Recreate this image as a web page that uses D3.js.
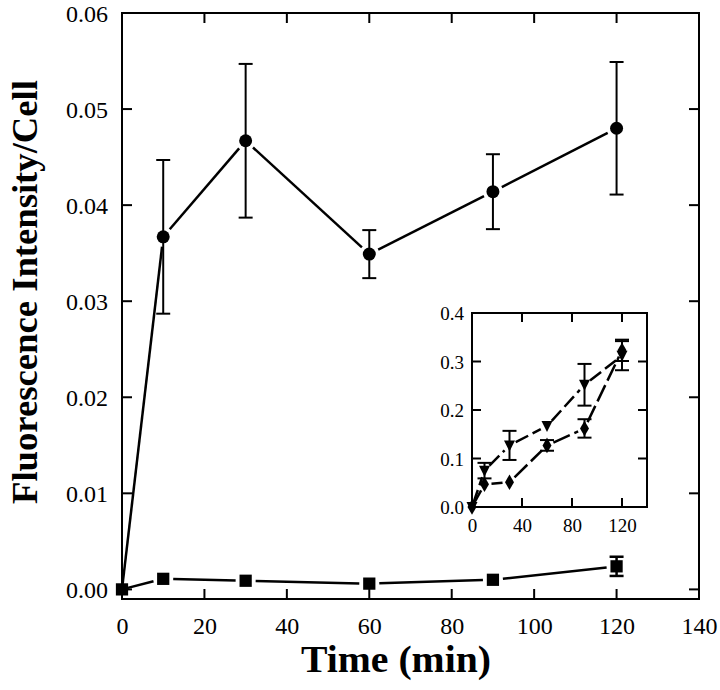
<!DOCTYPE html>
<html><head><meta charset="utf-8">
<script src="https://cdn.jsdelivr.net/npm/d3@7"></script>
<style>body{margin:0;background:#fff}svg{display:block}</style>
</head><body>
<svg id="c" width="720" height="690"></svg>
<script>
// ---- data ----
const times = [0, 10, 30, 60, 90, 120];
const circleVals = [0, 0.0367, 0.0467, 0.0349, 0.0414, 0.0480];
const circleErr  = [0, 0.0080, 0.0080, 0.0025, 0.0039, 0.0069];
const squareVals = [0, 0.0011, 0.0009, 0.0006, 0.0010, 0.0024];
const squareErr  = [0, 0, 0, 0, 0, 0.0010];
const xTicks = [0, 20, 40, 60, 80, 100, 120, 140];
const yTicks = [0, 0.01, 0.02, 0.03, 0.04, 0.05, 0.06];

const insetTimes = [0, 10, 30, 60, 90, 120];
const triVals = [0, 0.075, 0.127, 0.167, 0.252, 0.312];
const triErr  = [0, 0.016, 0.030, 0, 0.043, 0.030];
const diaVals = [0, 0.047, 0.051, 0.127, 0.162, 0.323];
const diaErr  = [0, 0, 0, 0.011, 0.019, 0.022];
const insetXTicks = [0, 40, 80, 120];
const insetYTicks = [0, 0.1, 0.2, 0.3, 0.4];

const svg = d3.select("#c");
const serif = "'Liberation Serif', 'DejaVu Serif', serif";

// ---- main scales ----
const x = d3.scaleLinear().domain([0, 140]).range([122, 699]);
const y = d3.scaleLinear().domain([-0.001, 0.06]).range([599, 13]);

function frame(g, xs, ys, xt, yt, tickLen, sw) {
  const [x0, x1] = xs.range(), [y0, y1] = ys.range();
  g.append("rect").attr("x", x0).attr("y", y1).attr("width", x1 - x0).attr("height", y0 - y1)
    .attr("fill", "none").attr("stroke", "#000").attr("stroke-width", sw);
  xt.forEach(t => {
    if (t > xs.domain()[0] && t < xs.domain()[1]) {
      g.append("line").attr("x1", xs(t)).attr("x2", xs(t)).attr("y1", y0).attr("y2", y0 - tickLen).attr("stroke", "#000").attr("stroke-width", sw);
      g.append("line").attr("x1", xs(t)).attr("x2", xs(t)).attr("y1", y1).attr("y2", y1 + tickLen).attr("stroke", "#000").attr("stroke-width", sw);
    }
  });
  yt.forEach(t => {
    if (t > ys.domain()[0] && t < ys.domain()[1]) {
      g.append("line").attr("x1", x0).attr("x2", x0 + tickLen).attr("y1", ys(t)).attr("y2", ys(t)).attr("stroke", "#000").attr("stroke-width", sw);
      g.append("line").attr("x1", x1).attr("x2", x1 - tickLen).attr("y1", ys(t)).attr("y2", ys(t)).attr("stroke", "#000").attr("stroke-width", sw);
    }
  });
}

// main frame
const gm = svg.append("g");
frame(gm, x, y, xTicks, yTicks, 10, 2);

// axis tick labels via d3 axes (no lines)
const xAxis = d3.axisBottom(x).tickValues(xTicks).tickSize(0).tickPadding(0).tickFormat(d3.format("d"));
const gx = svg.append("g").attr("transform", "translate(0,634)").call(xAxis);
gx.select(".domain").remove();
gx.selectAll("text").attr("font-family", serif).attr("font-size", 24).attr("fill", "#000").attr("dy", "0");

const yAxis = d3.axisLeft(y).tickValues(yTicks).tickSize(0).tickPadding(0).tickFormat(d3.format(".2f"));
const gy = svg.append("g").attr("transform", "translate(108,0)").call(yAxis);
gy.select(".domain").remove();
gy.selectAll("text").attr("font-family", serif).attr("font-size", 24).attr("fill", "#000").attr("dy", "0.35em");

// titles
svg.append("text").attr("x", 396).attr("y", 672).attr("text-anchor", "middle")
  .attr("font-family", serif).attr("font-weight", "bold").attr("font-size", 37)
  .attr("textLength", 190).attr("lengthAdjust", "spacingAndGlyphs").text("Time (min)");
svg.append("text").attr("transform", "translate(37,292) rotate(-90)").attr("text-anchor", "middle")
  .attr("font-family", serif).attr("font-weight", "bold").attr("font-size", 35)
  .attr("textLength", 424).attr("lengthAdjust", "spacingAndGlyphs").text("Fluorescence Intensity/Cell");

// gapped line helper
function gappedLine(g, xs, ys, tx, vals, gap, sw, dash) {
  for (let i = 0; i < tx.length - 1; i++) {
    const ax = xs(tx[i]), ay = ys(vals[i]), bx = xs(tx[i + 1]), by = ys(vals[i + 1]);
    const dx = bx - ax, dy = by - ay, L = Math.hypot(dx, dy);
    const ga = (i === 0) ? Math.min(gap, 4) : gap;
    if (L <= ga + gap) continue;
    const ux = dx / L, uy = dy / L;
    g.append("line").attr("x1", ax + ux * ga).attr("y1", ay + uy * ga)
      .attr("x2", bx - ux * gap).attr("y2", by - uy * gap)
      .attr("stroke", "#000").attr("stroke-width", sw).attr("stroke-dasharray", dash || null);
  }
}
function errBars(g, xs, ys, tx, vals, err, cap, sw) {
  tx.forEach((t, i) => {
    if (!err[i]) return;
    const cx = xs(t), top = ys(vals[i] + err[i]), bot = ys(vals[i] - err[i]);
    g.append("line").attr("x1", cx).attr("x2", cx).attr("y1", top).attr("y2", bot).attr("stroke", "#000").attr("stroke-width", sw);
    [top, bot].forEach(yy => g.append("line").attr("x1", cx - cap).attr("x2", cx + cap).attr("y1", yy).attr("y2", yy).attr("stroke", "#000").attr("stroke-width", sw));
  });
}

// main series
const gd = svg.append("g");
gappedLine(gd, x, y, times, circleVals, 10, 2.5);
gappedLine(gd, x, y, times, squareVals, 10, 2.5);
errBars(gd, x, y, times, circleVals, circleErr, 7, 2);
errBars(gd, x, y, times, squareVals, squareErr, 7, 2.5);
times.forEach((t, i) => {
  if (i > 0) gd.append("circle").attr("cx", x(t)).attr("cy", y(circleVals[i])).attr("r", 6.5).attr("fill", "#000");
});
const sq = d3.symbol().type(d3.symbolSquare).size(150);
times.forEach((t, i) => {
  gd.append("path").attr("d", sq).attr("transform", `translate(${x(t)},${y(squareVals[i])})`).attr("fill", "#000");
});

// ---- inset ----
const xi = d3.scaleLinear().domain([0, 140]).range([472, 647]);
const yi = d3.scaleLinear().domain([0, 0.4]).range([507, 313]);
const gi = svg.append("g");
frame(gi, xi, yi, insetXTicks, insetYTicks, 9, 2);
const ixAxis = d3.axisBottom(xi).tickValues(insetXTicks).tickSize(0).tickPadding(0).tickFormat(d3.format("d"));
const gix = svg.append("g").attr("transform", "translate(0,532)").call(ixAxis);
gix.select(".domain").remove();
gix.selectAll("text").attr("font-family", serif).attr("font-size", 19).attr("fill", "#000").attr("dy", "0");
const iyAxis = d3.axisLeft(yi).tickValues(insetYTicks).tickSize(0).tickPadding(0).tickFormat(d3.format(".1f"));
const giy = svg.append("g").attr("transform", "translate(464,0)").call(iyAxis);
giy.select(".domain").remove();
giy.selectAll("text").attr("font-family", serif).attr("font-size", 19).attr("fill", "#000").attr("dy", "0.35em");

const gid = svg.append("g");
gappedLine(gid, xi, yi, insetTimes, triVals, 7, 2.5, "14,5");
gappedLine(gid, xi, yi, insetTimes, diaVals, 7, 2.5, "18,5");
errBars(gid, xi, yi, insetTimes, triVals, triErr, 7, 2);
errBars(gid, xi, yi, insetTimes, diaVals, diaErr, 7, 2);
insetTimes.forEach((t, i) => {
  const cx = xi(t), cy = yi(triVals[i]);
  gid.append("path").attr("d", `M${cx - 5.5},${cy - 5} L${cx + 5.5},${cy - 5} L${cx},${cy + 6} Z`).attr("fill", "#000");
});
const dia = d3.symbol().type(d3.symbolDiamond).size(70);
insetTimes.forEach((t, i) => {
  gid.append("path").attr("d", dia).attr("transform", `translate(${xi(t)},${yi(diaVals[i])})`).attr("fill", "#000");
});
</script>
</body></html>
